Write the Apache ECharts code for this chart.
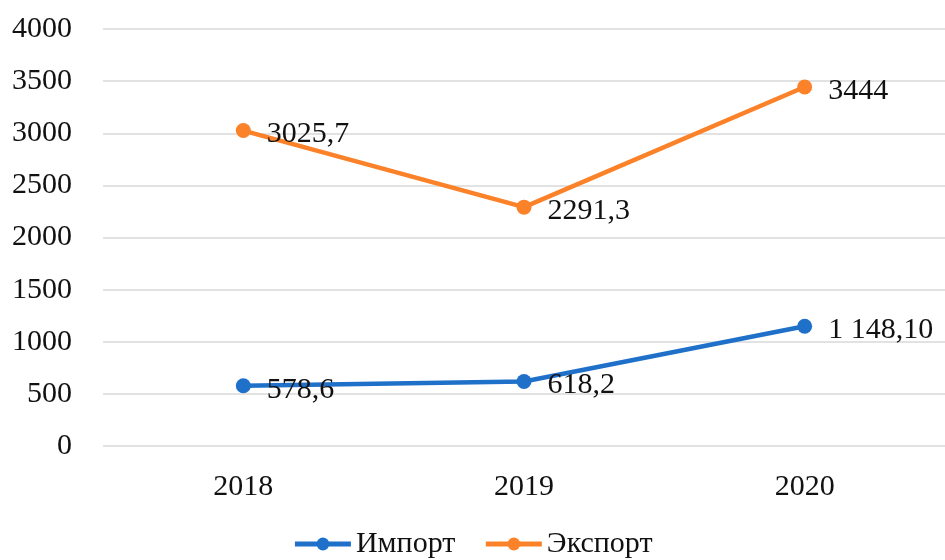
<!DOCTYPE html>
<html>
<head>
<meta charset="utf-8">
<script src="https://cdn.jsdelivr.net/npm/echarts@6/dist/echarts.min.js"></script>
<style>
  html, body { margin: 0; padding: 0; background: #fff; }
  #chart { width: 945px; height: 560px; }
</style>
</head>
<body>
<div id="chart"></div>
<script>
// данные графика
const years = ['2018', '2019', '2020'];
const importValues = [578.6, 618.2, 1148.1];
const exportValues = [3025.7, 2291.3, 3444];
const importLabels = ['578,6', '618,2', '1 148,10'];
const exportLabels = ['3025,7', '2291,3', '3444'];

const font = '"Liberation Serif", "DejaVu Serif", serif';
const blue = '#1f70c8';
const orange = '#fb8229';

const chart = echarts.init(document.getElementById('chart'));

const makeSeries = (name, values, labels, color) => ({
  name: name,
  type: 'line',
  data: values,
  symbol: 'circle',
  symbolSize: 15,
  itemStyle: { color: color },
  lineStyle: { color: color, width: 4.5 },
  label: {
    show: true,
    position: 'right',
    distance: 16,
    offset: [0, 4],
    fontFamily: font,
    fontSize: 30,
    color: '#111',
    formatter: (p) => labels[p.dataIndex]
  }
});

chart.setOption({
  animation: false,
  grid: { left: 103, right: 0, top: 29, bottom: 114 },
  legend: {
    bottom: -4,
    left: 'center',
    itemWidth: 56,
    itemHeight: 16,
    itemGap: 28,
    lineStyle: { width: 5 },
    textStyle: { fontFamily: font, fontSize: 30, color: '#111' },
    data: ['Импорт', 'Экспорт']
  },
  xAxis: {
    type: 'category',
    data: years,
    axisLine: { show: false },
    axisTick: { show: false },
    axisLabel: { fontFamily: font, fontSize: 30, color: '#111', margin: 26 }
  },
  yAxis: {
    type: 'value',
    min: 0,
    max: 4000,
    interval: 500,
    axisLine: { show: false },
    axisTick: { show: false },
    axisLabel: {
      fontFamily: font, fontSize: 30, color: '#111', margin: 31,
      formatter: (v) => String(v)
    },
    splitLine: { lineStyle: { color: '#d9d9d9', width: 1.5 } }
  },
  series: [
    makeSeries('Импорт', importValues, importLabels, blue),
    makeSeries('Экспорт', exportValues, exportLabels, orange)
  ]
});
</script>
</body>
</html>
